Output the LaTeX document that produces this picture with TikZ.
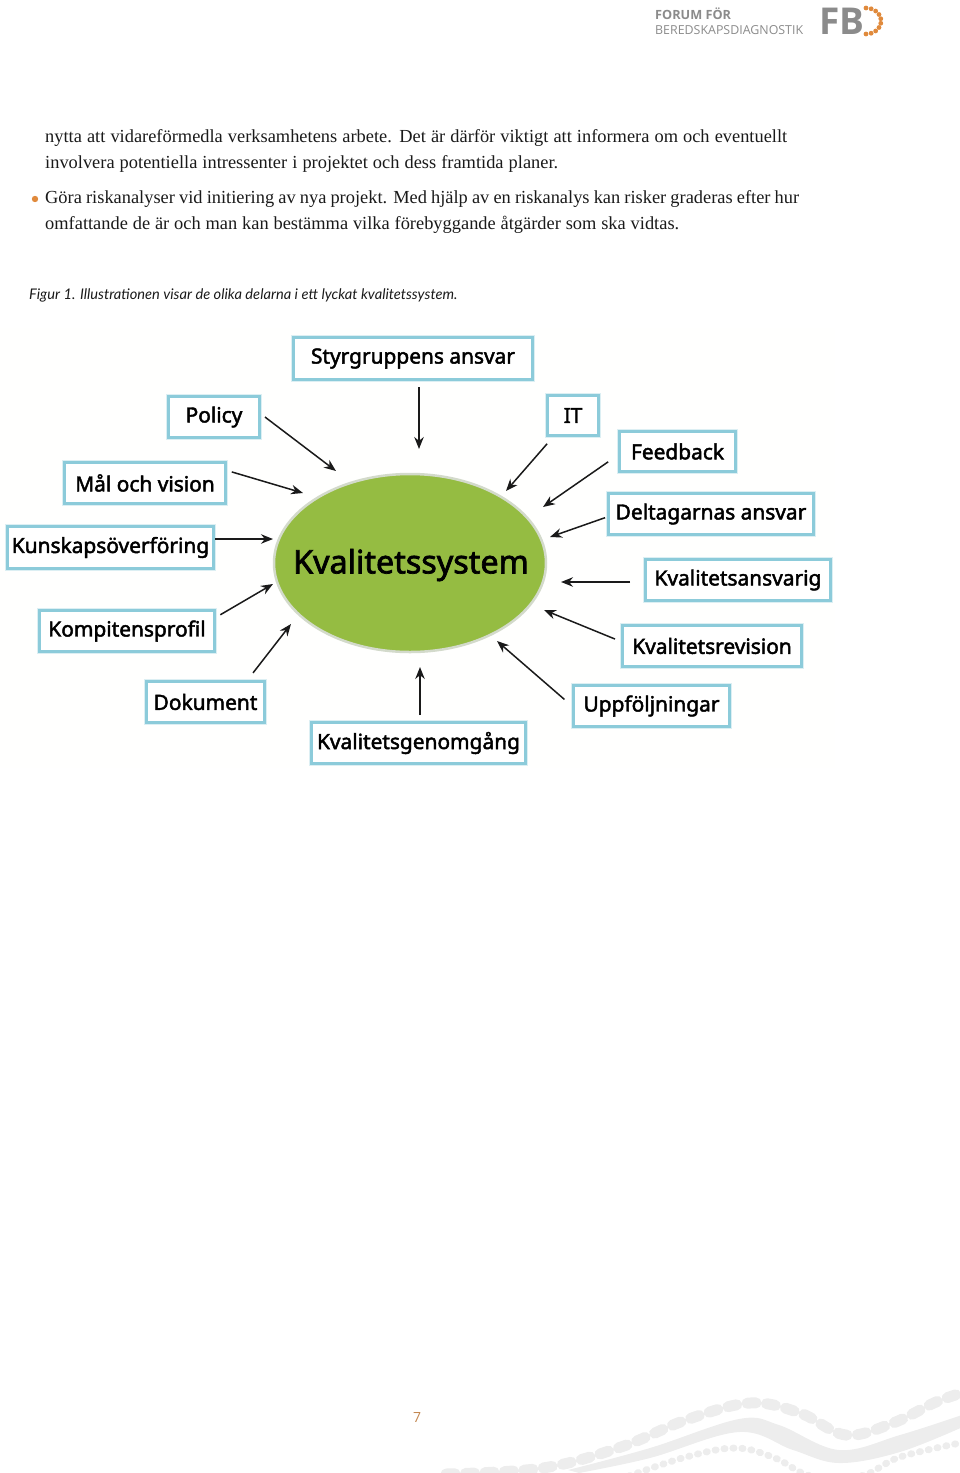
\documentclass[tikz,border=0pt]{standalone}
\usepackage{fontspec}
\setmainfont{Liberation Serif}
\newfontfamily\diagfont[RawFeature={embolden=2.2}]{Noto Sans}
\newfontfamily\headfont{Open Sans}
\newfontfamily\capfont{Lato}
\usetikzlibrary{arrows.meta,shapes.geometric}
\definecolor{boxline}{HTML}{8CCBDA}
\definecolor{boxhalo}{HTML}{DCEFF3}
\definecolor{leaf}{HTML}{95BC42}
\definecolor{leafhalo}{HTML}{D3DACB}
\definecolor{ink}{HTML}{1A1A1A}
\definecolor{headgray}{HTML}{8B8B8B}
\definecolor{fbdorange}{HTML}{E08A3C}
\definecolor{wave}{HTML}{EDEDED}
\tikzset{
  box/.style={draw=boxline,line width=3pt,fill=white,inner sep=0pt,align=center,text=black,
     font=\diagfont\fontsize{20.9}{24}\selectfont,
     preaction={draw=boxhalo,line width=5pt}},
  arr/.style={draw=ink,line width=1.5pt,-{Stealth[length=12pt,width=9.5pt]}},
  bodyline/.style={anchor=base west,inner sep=0pt,font=\fontsize{18.4}{22}\selectfont,text=ink},
}
\newcommand{\boxat}[6]{\node[box,minimum width={#4-#2-3},minimum height={#5-#3-3}] (#1) at ({(#2+#4)/2},{(#3+#5)/2}) {#6};}
\newcommand{\fitline}[2]{\makebox[#1pt][s]{#2}}
\begin{document}
\begin{tikzpicture}[x=1pt,y=-1pt]
\useasboundingbox (0,0) rectangle (960,1473);
\clip (0,0) rectangle (960,1473);
% header
\node[anchor=base west,inner sep=0pt,text=headgray,font=\headfont\bfseries\fontsize{12.7}{15}\selectfont] (h1) at (655,19) {FORUM FÖR};
\node[anchor=base west,inner sep=0pt,text=headgray,font=\headfont\fontsize{12.4}{15}\selectfont] (h2) at (655,34) {BEREDSKAPSDIAGNOSTIK};
\node[anchor=base west,inner sep=0pt,text=headgray,font=\headfont\bfseries\fontsize{37}{40}\selectfont] (logo) at (819,34.5) {FB};
\foreach \a in {-90,-70,-50,-30,-10,10,30,50,70,90}
  \fill[fbdorange] ({866+15*cos(\a)},{21+13*sin(\a)}) circle (2.4);
% body text
\node[bodyline] (t1) at (45,142) {\fitline{742}{nytta att vidareförmedla verksamhetens arbete. Det är därför viktigt att informera om och eventuellt}};
\node[bodyline] (t2) at (45,168) {\fitline{513}{involvera potentiella intressenter i projektet och dess framtida planer.}};
\fill[fbdorange] (35,199) circle (3.2);
\node[bodyline] (t3) at (45,203) {\fitline{754}{Göra riskanalyser vid initiering av nya projekt. Med hjälp av en riskanalys kan risker graderas efter hur}};
\node[bodyline] (t4) at (45,229) {\fitline{634}{omfattande de är och man kan bestämma vilka förebyggande åtgärder som ska vidtas.}};
\node[anchor=base west,inner sep=0pt,text=ink,font=\capfont\itshape\fontsize{14.65}{17}\selectfont] (cap) at (29,299) {Figur 1. Illustrationen visar de olika delarna i ett lyckat kvalitetssystem.};
% diagram background
\fill[white!99.5!yellow] (0,328) rectangle (835,768);
% ellipse
\node[ellipse,draw=leafhalo,line width=2.5pt,fill=leaf,minimum width=272pt,minimum height=178pt,inner sep=0pt] (core) at (410,563) {};
\node[inner sep=0pt,text=black,font=\diagfont\fontsize{32.3}{36}\selectfont] (corelabel) at (411,565) {Kvalitetssystem};
% boxes
\boxat{styr}{292}{336}{534}{381}{Styrgruppens ansvar}
\boxat{policy}{167}{395}{261}{439}{Policy}
\boxat{mal}{63}{461}{227}{505}{Mål och vision}
\boxat{kunskap}{6}{525}{215}{570}{Kunskapsöverföring}
\boxat{komp}{38}{609}{216}{653}{Kompitensprofil}
\boxat{dok}{145}{680}{266}{724}{Dokument}
\boxat{genom}{310}{721}{527}{765}{Kvalitetsgenomgång}
\boxat{uppf}{572}{684}{731}{728}{Uppföljningar}
\boxat{rev}{621}{624}{803}{668}{Kvalitetsrevision}
\boxat{ansv}{644}{558}{832}{602}{Kvalitetsansvarig}
\boxat{delt}{607}{492}{815}{536}{Deltagarnas ansvar}
\boxat{feed}{618}{430}{737}{473}{Feedback}
\boxat{it}{546}{394}{600}{437}{IT}
% arrow ends near the ellipse
\coordinate (eStyr) at (419,449);
\coordinate (ePolicy) at (336,471);
\coordinate (eMal) at (303,493);
\coordinate (eKunskap) at (273,539);
\coordinate (eKomp) at (273,584);
\coordinate (eDok) at (291,624);
\coordinate (eGenom) at (420,667);
\coordinate (eUppf) at (497,641);
\coordinate (eRev) at (544,610);
\coordinate (eAnsv) at (561,582);
\coordinate (eDelt) at (550,537);
\coordinate (eFeed) at (543,507);
\coordinate (eIt) at (506,491);
% arrows
\draw[arr,shorten <=6pt] ([xshift=6pt]styr.south) -- (eStyr);
\draw[arr,shorten <=5pt] ([yshift=3pt]policy.east) -- (ePolicy);
\draw[arr,shorten <=5pt] ([yshift=12.5pt]mal.east) -- (eMal);
\draw[arr] ([yshift=8.5pt]kunskap.east) -- (eKunskap);
\draw[arr,shorten <=5pt] ([yshift=13.7pt]komp.east) -- (eKomp);
\draw[arr,shorten <=9pt] ([xshift=42pt]dok.north) -- (eDok);
\draw[arr,shorten <=6pt] ([xshift=1.5pt]genom.north) -- (eGenom);
\draw[arr,shorten <=10pt] (uppf.west) -- (eUppf);
\draw[arr,shorten <=6.5pt] ([yshift=4.5pt]rev.west) -- (eRev);
\draw[arr,shorten <=14pt] ([yshift=-2pt]ansv.west) -- (eAnsv);
\draw[arr,shorten <=2pt] ([yshift=-3pt]delt.west) -- (eDelt);
\draw[arr,shorten <=12pt] ([yshift=-3.5pt]feed.west) -- (eFeed);
\draw[arr,shorten <=9pt] ([xshift=7pt]it.south west) -- (eIt);
% page number
\node[inner sep=0pt,text=fbdorange!70!gray,font=\headfont\fontsize{14}{16}\selectfont] (pageno) at (417,1417) {7};
% wave
\draw[wave,line width=11pt,line cap=round,dash pattern=on 9pt off 10.5pt]
  plot[smooth,tension=0.6] coordinates {(446,1474)(543,1468)(621,1447)(686,1420)(750,1403)(800,1413)(846,1435)(893,1423)(936,1402)(965,1392)};
\fill[wave] plot[smooth,tension=0.6] coordinates {(568,1470)(650,1448)(739,1419)(779,1425)(839,1450)(900,1435)(965,1414)}
  -- plot[smooth,tension=0.6] coordinates {(965,1426)(900,1452)(839,1463)(793,1450)(739,1432)(650,1458)(579,1473)} -- cycle;
\draw[wave,line width=7pt,line cap=round,dash pattern=on 1pt off 8pt]
  plot[smooth,tension=0.6] coordinates {(629,1476)(686,1457)(736,1448)(775,1458)(811,1476)(861,1476)(900,1457)(965,1442)};
\end{tikzpicture}
\end{document}
